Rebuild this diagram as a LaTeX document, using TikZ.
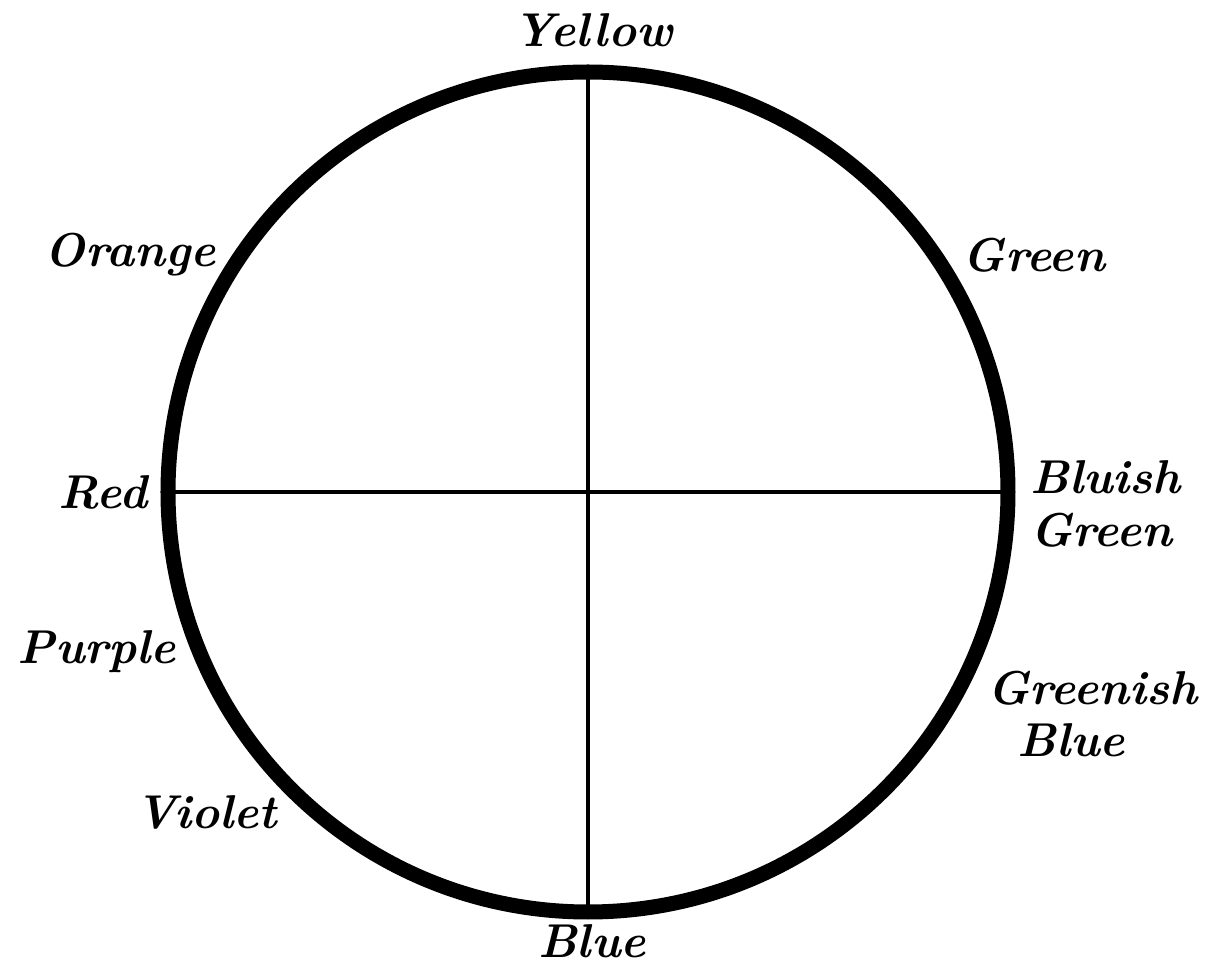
\documentclass[tikz,border=0pt]{standalone}
\usepackage{tikz}
\usetikzlibrary{positioning}

\tikzset{
    hue/.style={font=\fontsize{27}{30}\selectfont\bfseries\itshape, inner sep=0pt},
    wheel/.style={line width=0.3cm},
    axis/.style={line width=0.09cm}
}

\begin{document}
\begin{tikzpicture}
    % page frame
    \useasboundingbox (-11.76,-9.56) rectangle (12.48,9.84);

    % colour circle
    \draw[wheel] (0,0) circle (8.4);

    % ends of the two diameters
    \coordinate (top) at (90:8.4);
    \coordinate (bot) at (270:8.4);
    \coordinate (lft) at (180:8.4);
    \coordinate (rgt) at (0:8.4);
    \draw[axis] (top) -- (bot);
    \draw[axis] (lft) -- (rgt);

    % hue names round the circle
    \node[hue] (yellow) at (0.1, 9.24) {Yellow};
    \node[hue] (orange) at (-9.16, 4.74) {Orange};
    \node[hue] (green) at (8.92, 4.74) {Green};
    \node[hue] (red) at (-9.7, 0) {Red};
    \node[hue, anchor=west, align=left] (bgreen) at (8.84, -0.24) {Bluish\\Green};
    \node[hue] (purple) at (-9.82, -3.2) {Purple};
    \node[hue, anchor=west, align=left] (gblue) at (7.98, -4.44) {Greenish\\\hspace*{0.6cm}Blue};
    \node[hue] (violet) at (-7.64, -6.4) {Violet};
    \node[hue] (blue) at (0.08, -8.98) {Blue};
\end{tikzpicture}
\end{document}
